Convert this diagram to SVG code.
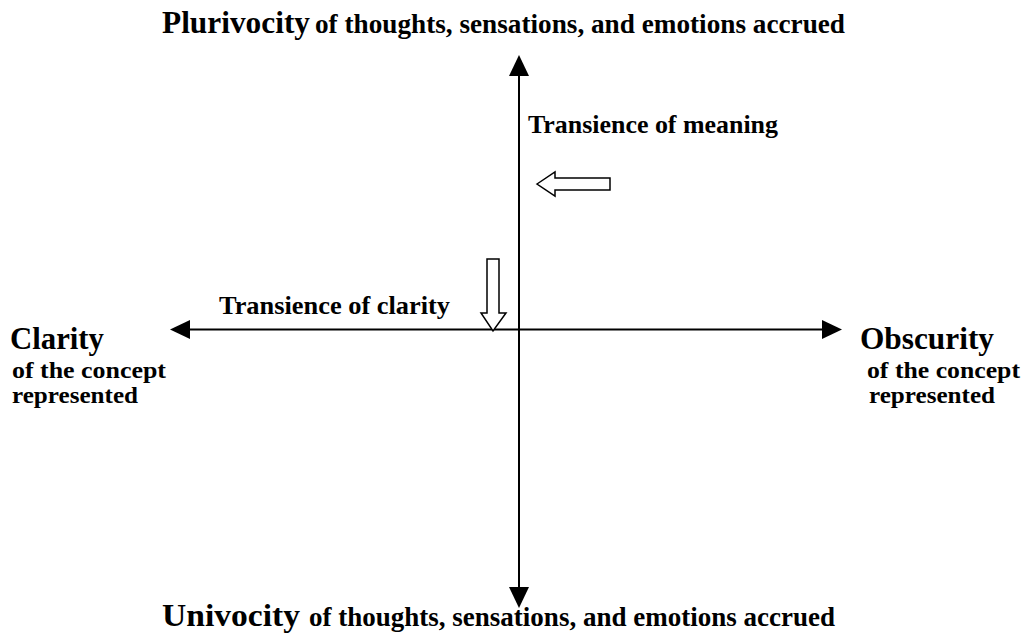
<svg xmlns="http://www.w3.org/2000/svg" width="1026" height="637" viewBox="0 0 1026 637">
<style>
text{font-family:"Liberation Serif","Times New Roman",serif;font-weight:bold;fill:#000}
.big{font-size:31px}
.sm{font-size:26px}
.sub{font-size:24px}
.ttl{font-size:27px}
.axis{stroke:#000;stroke-width:2;fill:none}
.head{fill:#000;stroke:none}
.hollow{fill:#fff;stroke:#000;stroke-width:1.5;stroke-linejoin:miter}
</style>
<rect width="1026" height="637" fill="#fff"/>
<g id="connectors">
<line class="axis" x1="519" y1="70" x2="519" y2="592"/>
<polygon class="head" points="519,55 509,76 529,76"/>
<polygon class="head" points="519,608 509,587 529,587"/>
<line class="axis" x1="185" y1="329.5" x2="826" y2="329.5"/>
<polygon class="head" points="170,329.5 190,320 190,339"/>
<polygon class="head" points="842,329.5 822,320 822,339"/>
</g>
<g id="meaning-arrow">
<polygon class="hollow" points="537,184 555,172 555,178 610,178 610,190 555,190 555,196"/>
</g>
<g id="clarity-arrow">
<polygon class="hollow" points="487,259 499,259 499,313 506,313 493,331 481,313 487,313"/>
</g>
<g id="plurivocity">
<text class="big" x="162" y="33" textLength="148" lengthAdjust="spacingAndGlyphs">Plurivocity</text>
<text class="ttl" x="315" y="33" textLength="530" lengthAdjust="spacingAndGlyphs">of thoughts, sensations, and emotions accrued</text>
</g>
<g id="univocity">
<text class="big" x="162" y="626" textLength="138" lengthAdjust="spacingAndGlyphs">Univocity</text>
<text class="ttl" x="309" y="626" textLength="526" lengthAdjust="spacingAndGlyphs">of thoughts, sensations, and emotions accrued</text>
</g>
<g id="transience-meaning">
<text class="sm" x="528" y="133" textLength="250" lengthAdjust="spacingAndGlyphs">Transience of meaning</text>
</g>
<g id="transience-clarity">
<text class="sm" x="219" y="314" textLength="231" lengthAdjust="spacingAndGlyphs">Transience of clarity</text>
</g>
<g id="clarity">
<text class="big" x="10" y="349" textLength="94" lengthAdjust="spacingAndGlyphs">Clarity</text>
<text class="sub" x="12" y="378" textLength="154" lengthAdjust="spacingAndGlyphs">of the concept</text>
<text class="sub" x="12" y="403" textLength="126" lengthAdjust="spacingAndGlyphs">represented</text>
</g>
<g id="obscurity">
<text class="big" x="860" y="349" textLength="134" lengthAdjust="spacingAndGlyphs">Obscurity</text>
<text class="sub" x="867" y="378" textLength="153" lengthAdjust="spacingAndGlyphs">of the concept</text>
<text class="sub" x="869" y="403" textLength="126" lengthAdjust="spacingAndGlyphs">represented</text>
</g>
</svg>
